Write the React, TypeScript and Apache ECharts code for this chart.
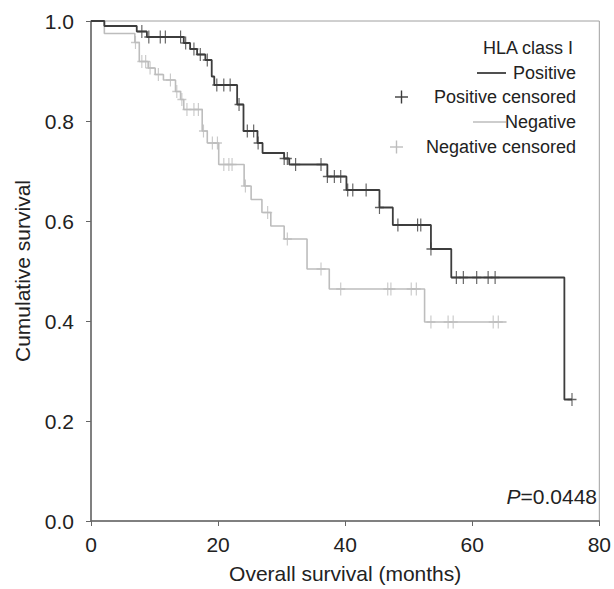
import React, { useEffect, useRef } from "react";
import * as echarts from "echarts";

// Kaplan–Meier step points: [month, survival from that month on]
const posSteps: [number, number][] = [
  [0, 1], [2.1, 0.99], [7.2, 0.979], [8.8, 0.968], [14.6, 0.956], [15.6, 0.944],
  [16.7, 0.933], [18.0, 0.922], [19.0, 0.889], [19.4, 0.872], [23.0, 0.833],
  [24.0, 0.78], [26.2, 0.756], [27.0, 0.736], [30.4, 0.725], [31.2, 0.713],
  [37.2, 0.689], [40.2, 0.662], [45.4, 0.627], [47.5, 0.592], [53.5, 0.544],
  [56.7, 0.487], [74.5, 0.243],
];
const posEnd = 75.7;
const posCensor = [
  8.0, 9.1, 10.9, 11.7, 14.1, 14.9, 16.2, 17.2, 18.3, 19.8, 20.9, 21.9, 23.3,
  24.6, 25.6, 26.3, 30.4, 30.9, 32.2, 36.2, 37.2, 38.3, 39.3, 40.4, 41.2, 43.3,
  45.4, 48.3, 51.4, 51.9, 53.5, 57.5, 58.6, 60.7, 62.5, 63.6, 75.7,
];

const negSteps: [number, number][] = [
  [0, 1], [2.1, 0.975], [6.9, 0.957], [7.6, 0.919], [9.0, 0.906], [10.1, 0.893],
  [11.4, 0.882], [13.3, 0.859], [14.1, 0.843], [14.6, 0.823], [17.5, 0.78],
  [18.3, 0.756], [20.1, 0.713], [24.1, 0.67], [25.2, 0.643], [26.9, 0.617],
  [28.3, 0.59], [30.4, 0.564], [34.0, 0.504], [37.5, 0.464], [52.5, 0.398],
];
const negEnd = 65.4;
const negCensor = [
  7.0, 8.0, 8.6, 9.3, 10.6, 12.5, 13.5, 14.3, 15.1, 16.2, 16.9, 17.7, 19.1, 19.9,
  20.9, 21.7, 22.2, 24.3, 27.8, 30.9, 36.2, 39.3, 46.7, 47.2, 50.4, 51.2, 53.5,
  56.2, 57.0, 63.3, 64.1,
];

const xTicks = [0, 20, 40, 60, 80];
const yTicks = [0, 0.2, 0.4, 0.6, 0.8, 1.0];

const legendTitle = "HLA class I";
const legendItems = ["Positive", "Positive censored", "Negative", "Negative censored"];
const pValueText = "=0.0448";

const DARK = "#3d3d3d";
const LIGHT = "#bdbdbd";
const FONT = "Liberation Sans, Arial, sans-serif";
const CROSS = "path://M5,0 L5,12 M0,6 L10,6";

function survAt(steps: [number, number][], t: number): number {
  let s = steps[0][1];
  for (const [x, v] of steps) {
    if (x <= t + 1e-9) s = v;
  }
  return s;
}

export default function App() {
  const ref = useRef<HTMLDivElement>(null);
  useEffect(() => {
    if (!ref.current) return;
    const chart = echarts.init(ref.current, undefined, { renderer: "svg" });
    const posLine = [...posSteps, [posEnd, posSteps[posSteps.length - 1][1]]];
    const negLine = [...negSteps, [negEnd, negSteps[negSteps.length - 1][1]]];
    const posC = posCensor.map((t) => [t, survAt(posSteps, t)]);
    const negC = negCensor.map((t) => [t, survAt(negSteps, t)]);

    const legendRight = 576;
    const rowY = [73, 97, 122, 147];
    const txt = (s: string, x: number, y: number, align: string, size = 18) => ({
      type: "text",
      x,
      y,
      style: {
        text: s,
        font: `${size}px ${FONT}`,
        fill: "#222",
        textAlign: align,
        textVerticalAlign: "middle",
      },
    });

    chart.setOption({
      animation: false,
      grid: {
        left: 91,
        right: 14,
        top: 21,
        bottom: 66,
        show: true,
        borderColor: "#a0a0a0",
        borderWidth: 1,
        backgroundColor: "transparent",
      },
      xAxis: {
        type: "value",
        min: 0,
        max: 80,
        interval: 20,
        name: "Overall survival (months)",
        nameLocation: "middle",
        nameGap: 42,
        nameTextStyle: { fontFamily: FONT, fontSize: 21, color: "#222" },
        axisLine: { show: true, lineStyle: { color: "#666", width: 1.5 } },
        axisTick: { show: true, length: 5, lineStyle: { color: "#666" } },
        axisLabel: {
          fontFamily: FONT,
          fontSize: 21,
          color: "#222",
          margin: 13,
          formatter: (v: number) => (xTicks.includes(v) ? String(v) : ""),
        },
        splitLine: { show: false },
      },
      yAxis: {
        type: "value",
        min: 0,
        max: 1,
        interval: 0.2,
        name: "Cumulative survival",
        nameLocation: "middle",
        nameGap: 58,
        nameTextStyle: { fontFamily: FONT, fontSize: 21, color: "#222" },
        axisLine: { show: true, lineStyle: { color: "#666", width: 1.5 } },
        axisTick: { show: true, length: 5, lineStyle: { color: "#666" } },
        axisLabel: {
          fontFamily: FONT,
          fontSize: 21,
          color: "#222",
          margin: 17,
          formatter: (v: number) =>
            yTicks.some((t) => Math.abs(t - v) < 1e-6) ? v.toFixed(1) : "",
        },
        splitLine: { show: false },
      },
      series: [
        {
          type: "line",
          data: negLine,
          step: "end",
          showSymbol: false,
          lineStyle: { color: LIGHT, width: 1.6 },
          z: 2,
        },
        {
          type: "scatter",
          data: negC,
          symbol: CROSS,
          symbolSize: [9, 13],
          itemStyle: { color: "none", borderColor: LIGHT, borderWidth: 1.4 },
          z: 2,
        },
        {
          type: "line",
          data: posLine,
          step: "end",
          showSymbol: false,
          lineStyle: { color: DARK, width: 1.8 },
          z: 3,
        },
        {
          type: "scatter",
          data: posC,
          symbol: CROSS,
          symbolSize: [9, 13],
          itemStyle: { color: "none", borderColor: DARK, borderWidth: 1.4 },
          z: 3,
        },
      ],
      graphic: [
        txt(legendTitle, legendRight - 3, 48, "right"),
        {
          type: "line",
          shape: { x1: 477, y1: rowY[0], x2: 506, y2: rowY[0] },
          style: { stroke: DARK, lineWidth: 1.8 },
        },
        txt(legendItems[0], legendRight, rowY[0], "right"),
        {
          type: "line",
          shape: { x1: 395, y1: rowY[1], x2: 408, y2: rowY[1] },
          style: { stroke: DARK, lineWidth: 1.4 },
        },
        {
          type: "line",
          shape: { x1: 401.5, y1: rowY[1] - 6.5, x2: 401.5, y2: rowY[1] + 6.5 },
          style: { stroke: DARK, lineWidth: 1.4 },
        },
        txt(legendItems[1], legendRight, rowY[1], "right"),
        {
          type: "line",
          shape: { x1: 473, y1: rowY[2], x2: 506, y2: rowY[2] },
          style: { stroke: LIGHT, lineWidth: 1.6 },
        },
        txt(legendItems[2], legendRight, rowY[2], "right"),
        {
          type: "line",
          shape: { x1: 390, y1: rowY[3], x2: 403, y2: rowY[3] },
          style: { stroke: LIGHT, lineWidth: 1.4 },
        },
        {
          type: "line",
          shape: { x1: 396.5, y1: rowY[3] - 6.5, x2: 396.5, y2: rowY[3] + 6.5 },
          style: { stroke: LIGHT, lineWidth: 1.4 },
        },
        txt(legendItems[3], legendRight, rowY[3], "right"),
        {
          type: "text",
          x: 597,
          y: 496,
          style: {
            text: "{i|P}" + pValueText,
            font: `21px ${FONT}`,
            fill: "#222",
            textAlign: "right",
            textVerticalAlign: "middle",
            rich: {
              i: { fontStyle: "italic", fontFamily: FONT, fontSize: 21, fill: "#222" },
            },
          },
        },
      ],
    });
    return () => chart.dispose();
  }, []);
  return (
    <div
      ref={ref}
      style={{ position: "fixed", left: 0, top: 0, width: 614, height: 589, background: "#fff" }}
    />
  );
}
